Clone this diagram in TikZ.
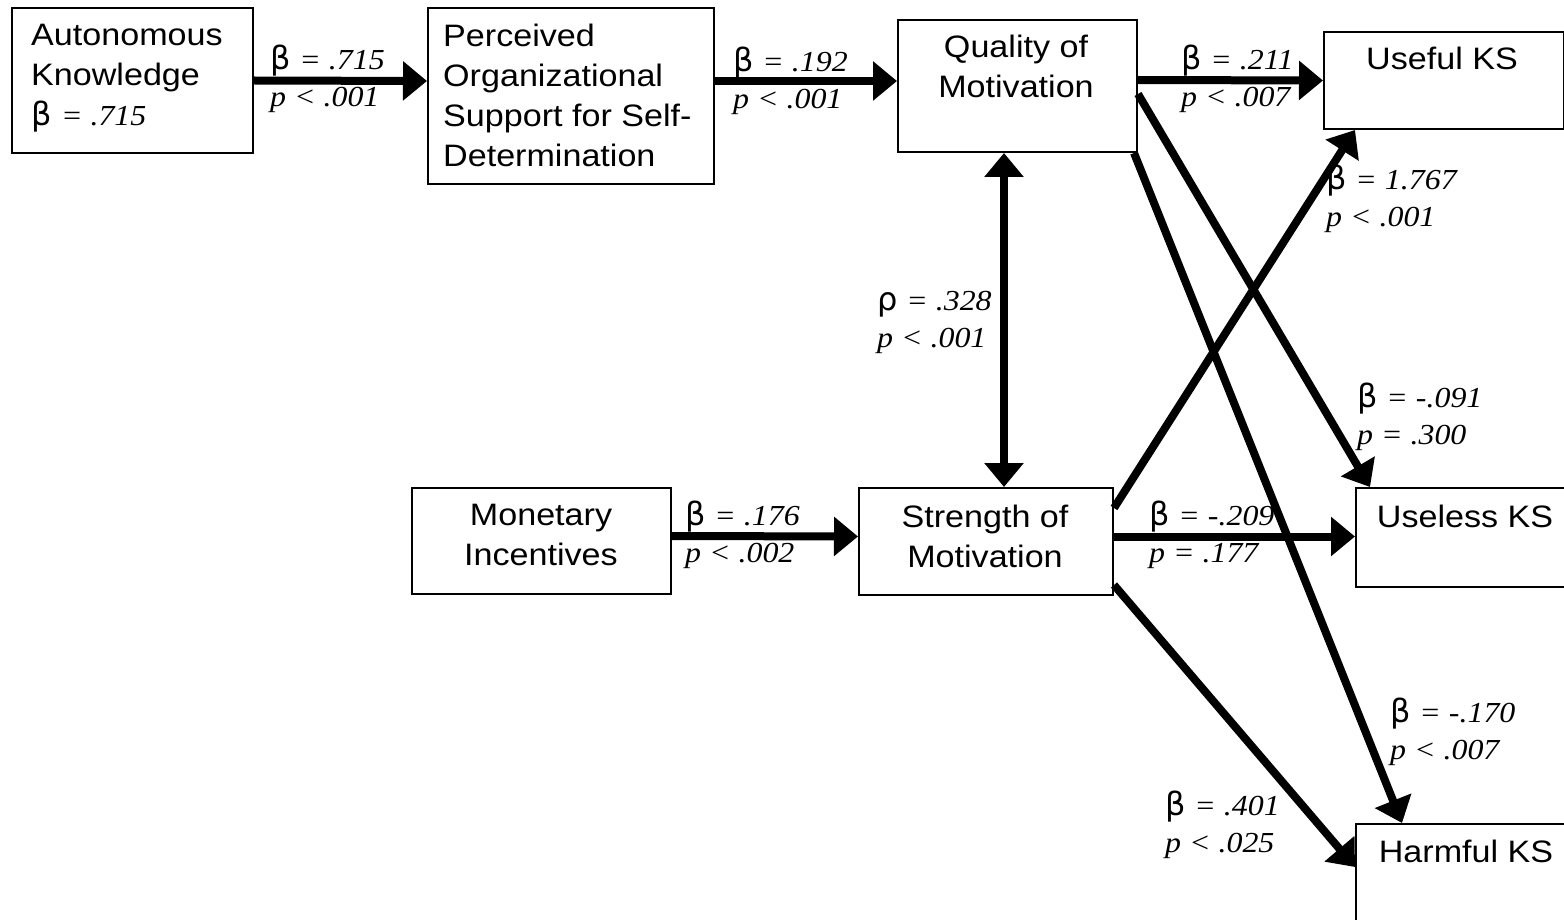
\documentclass[tikz,border=0pt]{standalone}
\usepackage{fontspec}
\setmainfont{Liberation Sans}[FakeStretch=1.1]
\newfontfamily\numfont{Liberation Serif}[FakeStretch=1.1]
\newfontfamily\grkfont{DejaVu Sans}
\usetikzlibrary{arrows.meta, positioning}

% estimate next to a path: symbol, value, relation, p
\newcommand{\grk}[1]{{\grkfont\fontsize{32}{37}\selectfont #1}}
\newcommand{\est}[4]{\grk{#1} {\numfont\itshape = #2}\\{\numfont\itshape p #3 #4}}

\tikzset{
  box/.style={draw, line width=2pt, inner sep=0pt, anchor=north west},
  boxtext/.style={font=\fontsize{31}{40}\selectfont, inner sep=0pt},
  coef/.style={font=\fontsize{29}{37}\selectfont, align=left, inner sep=0pt, anchor=base west},
  effect/.style={line width=8pt, -{Triangle[length=24pt,width=38pt]}},
  corr/.style={line width=8pt, {Triangle[length=24pt,width=38pt]}-{Triangle[length=24pt,width=38pt]}}
}

\begin{document}
\begin{tikzpicture}[x=1pt, y=-1pt]
\useasboundingbox (0,0) rectangle (1564,920);
\clip (0,0) rectangle (1564,920);
% Boxes
\node[box, minimum width=241pt, minimum height=145pt] (auto) at (11,7) {};
\node[box, minimum width=286pt, minimum height=176pt] (pos) at (427,7) {};
\node[box, minimum width=239pt, minimum height=132pt] (qual) at (897,19) {};
\node[box, minimum width=240pt, minimum height=97pt] (useful) at (1323,31) {};
\node[box, minimum width=259pt, minimum height=106pt] (money) at (411,487) {};
\node[box, minimum width=254pt, minimum height=107pt] (strength) at (858,487) {};
\node[box, minimum width=230pt, minimum height=99pt] (useless) at (1355,487) {};
\node[box, minimum width=230pt, minimum height=140pt] (harmful) at (1355,823) {};
% Box texts (anchored on the last line)
\node[boxtext, align=left, anchor=base west] (autotext) at (31,126) {Autonomous\\Knowledge\\\grk{β} {\numfont\itshape\fontsize{29}{37}\selectfont = .715}};
\node[boxtext, align=left, anchor=base west] (postext) at (443,167) {Perceived\\Organizational\\Support for Self-\\Determination};
\node[boxtext, align=center, anchor=base] (qualtext) at (1016,98) {Quality of\\Motivation};
\node[boxtext, anchor=base] (usefultext) at (1442,70) {Useful KS};
\node[boxtext, align=center, anchor=base] (moneytext) at (541,565) {Monetary\\Incentives};
\node[boxtext, align=center, anchor=base] (strengthtext) at (985,567) {Strength of\\Motivation};
\node[boxtext, anchor=base] (uselesstext) at (1465,527) {Useless KS};
\node[boxtext, anchor=base] (harmfultext) at (1466,862) {Harmful KS};
% Paths
\draw[effect] (auto.east) -- ([yshift=15pt]pos.west);
\draw[effect] ([yshift=15pt]pos.east) -- ([yshift=5pt]qual.west);
\draw[effect] ([yshift=6pt]qual.east) -- (useful.west);
\draw[corr] ([xshift=-13.5pt]qual.south) -- ([xshift=18pt]strength.north);
\draw[effect] ([yshift=5pt]money.east) -- ([yshift=5pt]strength.west);
\draw[effect] ([yshift=5pt]strength.east) -- ([yshift=1pt]useless.west);
\draw[effect] ([yshift=-21pt]strength.north east) -- ([xshift=32pt]useful.south west);
\draw[effect] ([yshift=-8pt]qual.east) -- ([xshift=15pt]useless.north west);
\draw[effect] ([xshift=-4pt]qual.south east) -- ([xshift=47pt]harmful.north west);
\draw[effect] ([yshift=11pt]strength.south east) -- ([yshift=-44pt]harmful.north west);
% Estimates (anchored on the p line)
\node[coef] (e-auto) at (270,107) {\est{β}{.715}{<}{.001}};
\node[coef] (e-pos) at (733,109) {\est{β}{.192}{<}{.001}};
\node[coef] (e-qual) at (1181,107) {\est{β}{.211}{<}{.007}};
\node[coef] (e-rho) at (877,347) {\est{ρ}{.328}{<}{.001}};
\node[coef] (e-money) at (685,562) {\est{β}{.176}{<}{.002}};
\node[coef] (e-useless) at (1149,562) {\est{β}{-.209}{=}{.177}};
\node[coef] (e-useful) at (1326,227) {\est{β}{1.767}{<}{.001}};
\node[coef] (e-qless) at (1357,444) {\est{β}{-.091}{=}{.300}};
\node[coef] (e-qharm) at (1390,759) {\est{β}{-.170}{<}{.007}};
\node[coef] (e-sharm) at (1165,852) {\est{β}{.401}{<}{.025}};
\end{tikzpicture}
\end{document}
